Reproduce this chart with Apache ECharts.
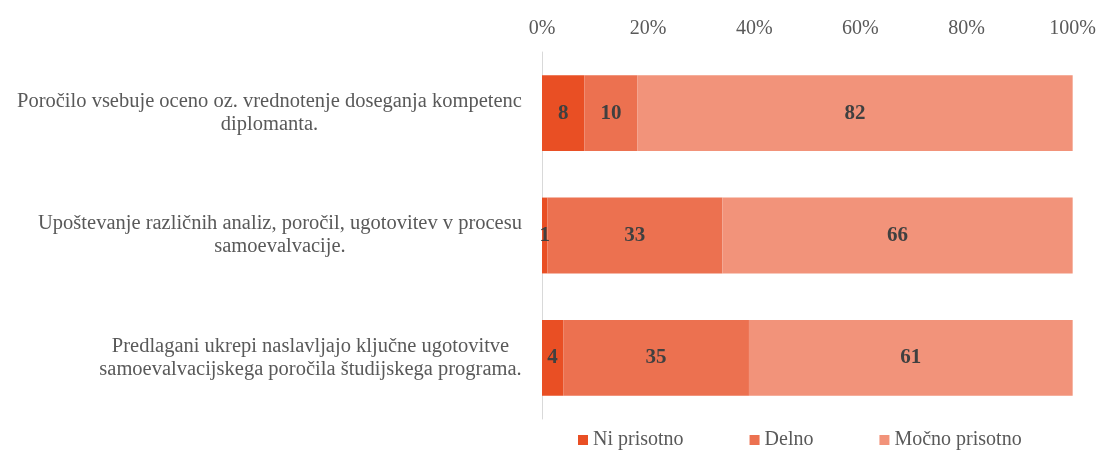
<!DOCTYPE html>
<html><head><meta charset="utf-8">
<script src="https://cdn.jsdelivr.net/npm/echarts@6/dist/echarts.min.js"></script>
<style>html,body{margin:0;padding:0;background:#fff}#c{width:1099px;height:450px}</style>
</head><body><div id="c"></div>
<script>
var categories = [
  ["Poročilo vsebuje oceno oz. vrednotenje doseganja kompetenc", "diplomanta."],
  ["Upoštevanje različnih analiz, poročil, ugotovitev v procesu", "samoevalvacije."],
  ["Predlagani ukrepi naslavljajo ključne ugotovitve", "samoevalvacijskega poročila študijskega programa."]
];
var seriesNames = ["Ni prisotno", "Delno", "Močno prisotno"];
var niPrisotno = [8, 1, 4];
var delno = [10, 33, 35];
var mocnoPrisotno = [82, 66, 61];
var tickValues = [0, 20, 40, 60, 80, 100];

var FONT = "Liberation Serif";
var catSize = 20.5;
var colors = ["#E94F24", "#EC7150", "#F2937A"];

var cv = document.createElement('canvas').getContext('2d');
cv.font = catSize + "px '" + FONT + "'";
var rich = {};
categories.forEach(function (lines, i) {
  var w = 0;
  lines.forEach(function (l) { w = Math.max(w, cv.measureText(l).width); });
  rich['r' + i] = { width: Math.ceil(w), align: 'center', fontFamily: FONT, fontSize: catSize, color: '#595959', lineHeight: 23 };
});
var catKeys = categories.map(function (_, i) { return 'c' + i; });

var chart = echarts.init(document.getElementById('c'), null, { renderer: 'canvas' });
var allData = [niPrisotno, delno, mocnoPrisotno];
chart.setOption({
  animation: false,
  textStyle: { fontFamily: FONT },
  grid: { left: 542, right: 24, top: 52, bottom: 31, containLabel: false },
  legend: {
    data: seriesNames,
    left: 573, bottom: -5,
    itemWidth: 10, itemHeight: 10, itemGap: 66,
    icon: 'rect',
    textStyle: { fontFamily: FONT, fontSize: 20, color: '#595959' }
  },
  xAxis: {
    type: 'value', position: 'top', min: 0, max: 100, interval: 20,
    axisLine: { show: false }, axisTick: { show: false }, splitLine: { show: false },
    axisLabel: { formatter: function (v) { return tickValues.indexOf(v) >= 0 ? v + '%' : ''; }, color: '#595959', fontFamily: FONT, fontSize: 20, margin: 13 }
  },
  yAxis: {
    type: 'category', inverse: true, data: catKeys,
    axisLine: { show: true, lineStyle: { color: '#d9d9d9', width: 1 } },
    axisTick: { show: false },
    axisLabel: {
      margin: 20, align: 'right',
      formatter: function (v) {
        var i = +v.slice(1);
        return categories[i].map(function (l) { return '{r' + i + '|' + l + '}'; }).join('\n');
      },
      rich: rich
    }
  },
  series: seriesNames.map(function (n, k) {
    return {
      name: n, type: 'bar', stack: 'total', barWidth: '62%',
      itemStyle: { color: colors[k] },
      label: { show: true, position: 'inside', color: '#404040', fontFamily: FONT, fontSize: 21, fontWeight: 'bold' },
      data: allData[k]
    };
  })
});
</script></body></html>
